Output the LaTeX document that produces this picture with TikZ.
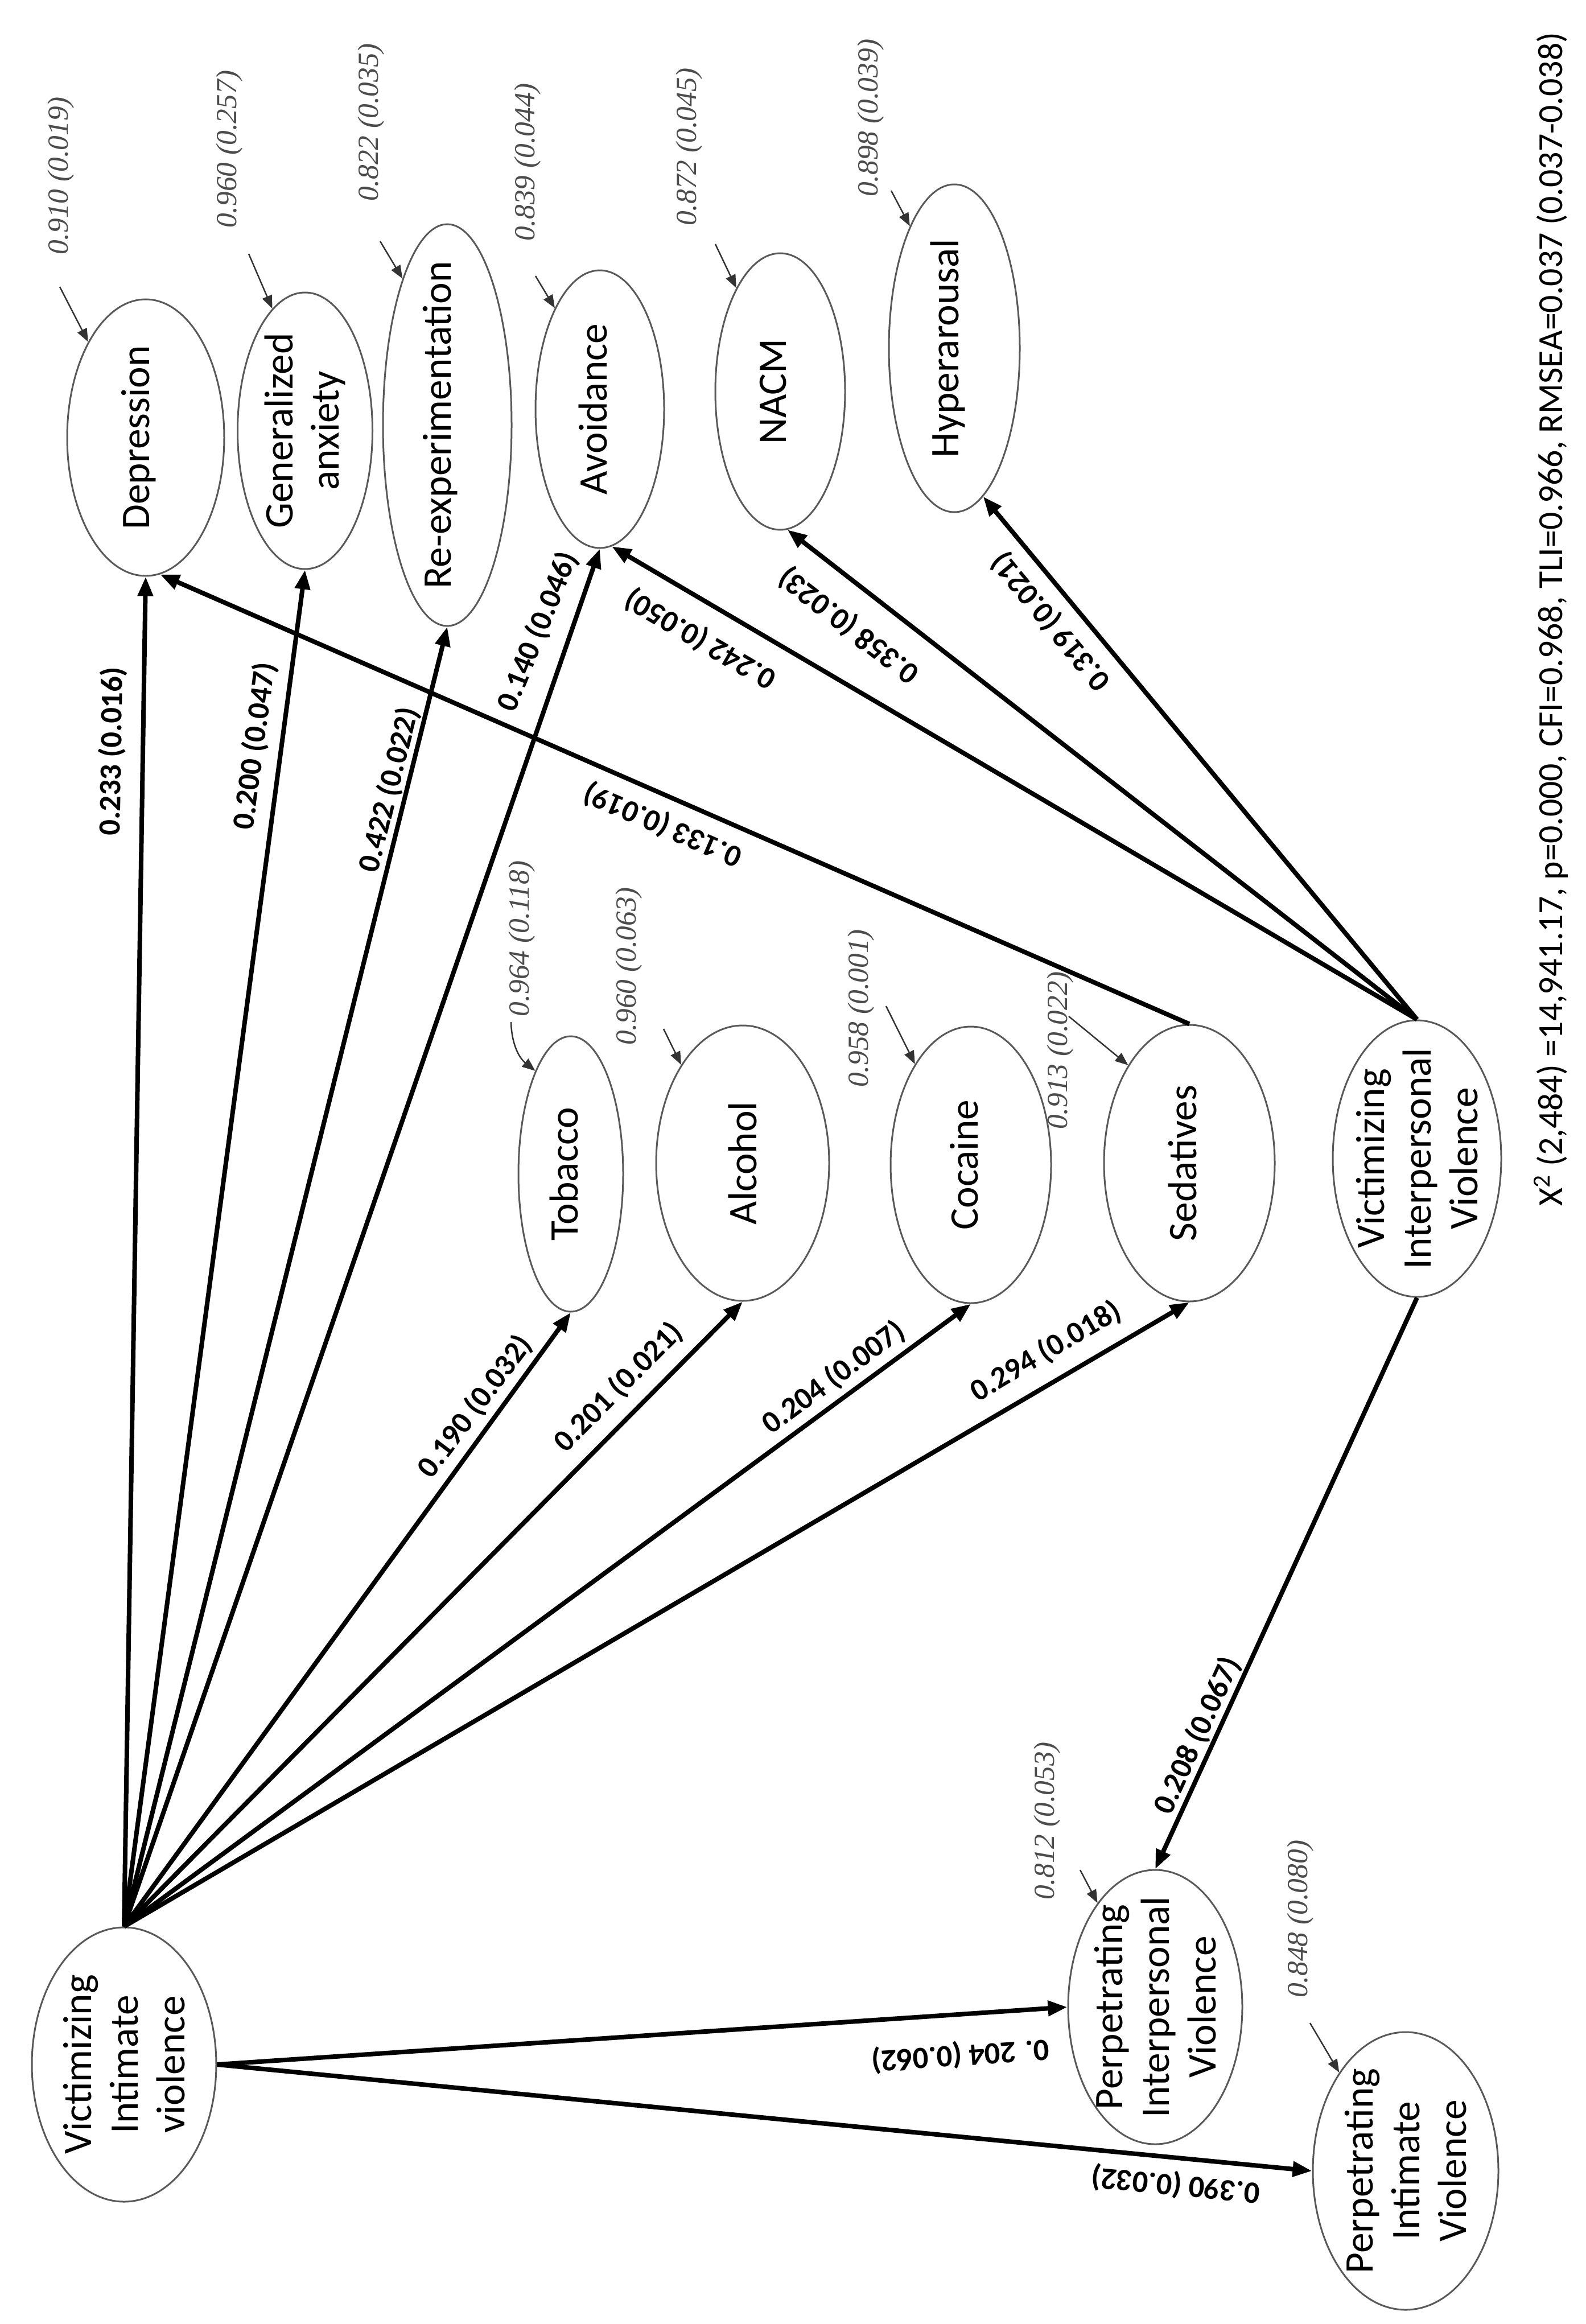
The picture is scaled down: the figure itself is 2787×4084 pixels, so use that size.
\documentclass[tikz,border=0pt]{standalone}
\usepackage{fontspec}
\setmainfont{Carlito}
\newfontfamily\resfam{Liberation Serif}
\usetikzlibrary{shapes.geometric,arrows.meta}

\newcommand\latfont{\fontsize{20.3}{23.3}\selectfont}
\newcommand\coeffont{\fontsize{15.5}{18}\selectfont\bfseries}
\newcommand\resfont{\resfam\itshape\fontsize{14.6}{17}\selectfont}
\newcommand\fitfont{\fontsize{17.6}{20}\selectfont}

\begin{document}
\begin{tikzpicture}[x=0.1mm, y=-0.1mm,
  lat/.style={ellipse, draw=black!65, line width=0.3mm, inner sep=0pt},
  txt/.style={rotate=90, align=center, font=\latfont, inner sep=0pt},
  txtone/.style={xshift=-1.2mm, txt},
  eff/.style={line width=0.8mm, -{Triangle[length=3.4mm,width=2.6mm]}},
  err/.style={line width=0.25mm, draw=black!80, -{Triangle[length=2.3mm,width=1.8mm]}},
  coef/.style={font=\coeffont, inner sep=0pt},
  res/.style={font=\resfont, text=black!70, rotate=90, inner sep=0pt}]

  \useasboundingbox (0,0) rectangle (2787,4084);

  % Symptoms
  \node[lat, minimum width=27.6mm, minimum height=48.6mm, label={[txtone]center:Depression}] (dep) at (256,769) {};
  \node[lat, minimum width=23.7mm, minimum height=48.6mm, label={[txt]center:Generalized\\anxiety}] (gad) at (536,757) {};
  \node[lat, minimum width=22.6mm, minimum height=70.6mm, label={[txtone]center:Re-experimentation}] (reexp) at (786,747) {};
  \node[lat, minimum width=22.6mm, minimum height=48.8mm, label={[txtone]center:Avoidance}] (avoid) at (1054,719) {};
  \node[lat, minimum width=22.8mm, minimum height=48.6mm, label={[txtone]center:NACM}] (nacm) at (1371,688) {};
  \node[lat, minimum width=23.0mm, minimum height=57.6mm, label={[txtone]center:Hyperarousal}] (hyper) at (1677,612) {};

  % Substance use
  \node[lat, minimum width=18.4mm, minimum height=48.4mm, label={[txtone]center:Tobacco}] (tob) at (1003,2063) {};
  \node[lat, minimum width=30.4mm, minimum height=48.4mm, label={[txt]center:Alcohol}] (alc) at (1305,2044) {};
  \node[lat, minimum width=28.2mm, minimum height=48.6mm, label={[txtone]center:Cocaine}] (coc) at (1706,2047) {};
  \node[lat, minimum width=30.0mm, minimum height=48.6mm, label={[txtone]center:Sedatives}] (sed) at (2090,2044) {};

  % Violence
  \node[lat, minimum width=29.6mm, minimum height=48.6mm, label={[txt]center:Victimizing\\Interpersonal\\Violence}] (viv) at (2490,2036) {};
  \node[lat, minimum width=32.4mm, minimum height=48.2mm, label={[txt]center:Victimizing\\Intimate\\violence}] (vint) at (218,3628) {};
  \node[lat, minimum width=30.6mm, minimum height=48.2mm, label={[txt]center:Perpetrating\\Interpersonal\\Violence}] (piv) at (2030,3527) {};
  \node[lat, minimum width=32.6mm, minimum height=48.8mm, label={[txt]center:Perpetrating\\Intimate\\Violence}] (pint) at (2470,3815) {};

  % Paths from victimizing intimate violence
  \foreach \t in {dep,gad,reexp,avoid,tob,alc,coc,sed}
    \draw[eff] (vint.north) -- (\t.south);
  \foreach \t in {piv,pint}
    \draw[eff] (vint.east) -- (\t.west);

  % Paths from victimizing interpersonal violence
  \foreach \t/\a in {avoid/-85, nacm/-87, hyper/-79}
    \draw[eff] (viv.north) -- (\t.\a);
  \draw[eff] (viv.south) -- (piv.north);
  \draw[eff] (sed.north) -- (dep.-84);

  % Coefficients
  \foreach \n/\x/\y/\r/\v in {
    dep/197/1320/89/{0.233 (0.016)}, gad/448/1311/82.4/{0.200 (0.047)},
    reexp/684/1388/76/{0.422 (0.022)}, avoid/945/1110/68/{0.140 (0.046)},
    seddep/1165/1449/156.6/{0.133 (0.019)}, vivavoid/1231/1123/149.7/{0.242 (0.050)},
    vivnacm/1492/1099/142.1/{0.358 (0.023)}, vivhyper/1847/1092/129.5/{0.319 (0.021)},
    tob/835/2472/53/{0.190 (0.032)}, alc/1087/2438/45.3/{0.201 (0.021)},
    coc/1465/2421/36.4/{0.204 (0.007)}, sed/1838/2375/30.5/{0.294 (0.018)},
    vivpiv/2104/3050/65.5/{0.208 (0.067)}, piv/1688/3611/183.9/{0. 204 (0.062)},
    pint/2066/3839/174.5/{0.390 (0.032)}} {
    \node[coef, rotate=\r] (c-\n) at (\x,\y) {\v};
  }

  % Residuals
  \foreach \t/\x/\y/\v in {
    dep/107/309/{0.910 (0.019)}, gad/403/262/{0.960 (0.257)},
    reexp/652/215/{0.822 (0.035)}, avoid/927/285/{0.839 (0.044)},
    nacm/1211/258/{0.872 (0.045)}, hyper/1530/207/{0.898 (0.039)},
    tob/917/1649/{0.964 (0.118)}, alc/1105/1698/{0.960 (0.063)},
    coc/1513/1772/{0.958 (0.001)}, sed/1863/1846/{0.913 (0.022)},
    piv/1840/3200/{0.812 (0.053)}, pint/2285/3372/{0.848 (0.080)}} {
    \node[res] (r-\t) at (\x,\y) {\v};
  }
  \foreach \t/\x/\y/\a in {
    dep/105/504/121, gad/437/446/105, reexp/668/424/107, avoid/941/485/114,
    nacm/1257/429/113, hyper/1566/335/110, alc/1166/1808/122, coc/1557/1768/119,
    sed/1878/1786/122, piv/1898/3286/119, pint/2302/3555/124} {
    \coordinate (e-\t) at (\x,\y);
    \draw[err] (e-\t) -- (\t.\a);
  }
  \coordinate (e-tob) at (898,1796);
  \draw[err] (e-tob) to[bend right=25] (tob.109);

  % Fit
  \node[font=\fitfont, rotate=90, inner sep=0pt] (fit) at (2725,1088)
    {X\textsuperscript{2} (2,484) =14,941.17, p=0.000, CFI=0.968, TLI=0.966, RMSEA=0.037 (0.037-0.038)};
\end{tikzpicture}
\end{document}
